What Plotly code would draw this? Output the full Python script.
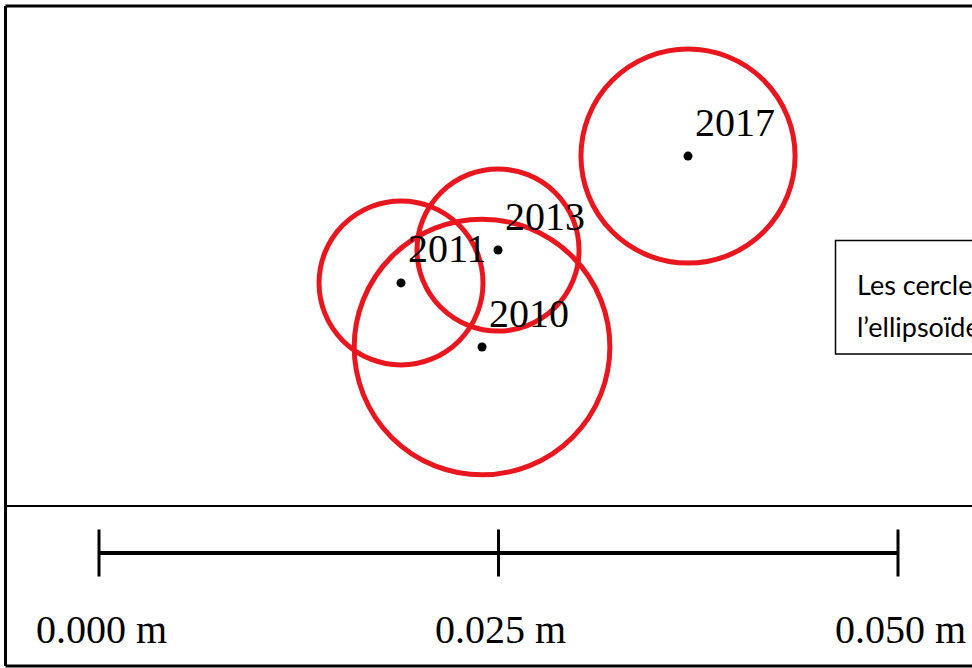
import plotly.graph_objects as go

# ---- data (metres) ----
years = ["2010", "2011", "2013", "2017"]
x_m = [0.02397, 0.01890, 0.02497, 0.03686]
y_m = [0.01289, 0.01690, 0.01896, 0.02484]
radius_m = [0.00800, 0.00513, 0.00507, 0.00670]

scale_ticks = [0.000, 0.025, 0.050]
scale_labels = ["0.000 m", "0.025 m", "0.050 m"]

note_lines = ["Les cercles représentent", "l’ellipsoïde d’erreur"]

# ---- layout constants ----
W, H = 972, 668
PX_PER_M = 15980.0
X_RANGE = [-99 / PX_PER_M, (W - 99) / PX_PER_M]
Y_RANGE = [-(H - 553) / PX_PER_M, 553 / PX_PER_M]
SERIF = "Liberation Serif, Times New Roman, serif"
RED = "#e8161e"

fig = go.Figure()

# epicentre dots
fig.add_trace(go.Scatter(x=x_m, y=y_m, mode="markers",
                         marker=dict(color="black", size=9),
                         hoverinfo="skip", showlegend=False))

# scale bar
fig.add_trace(go.Scatter(x=[scale_ticks[0], scale_ticks[-1]], y=[0, 0], mode="lines",
                         line=dict(color="black", width=4), hoverinfo="skip", showlegend=False))
tick_h = 23.5 / PX_PER_M
tx, ty = [], []
for t in scale_ticks:
    tx += [t, t, None]
    ty += [tick_h, -tick_h, None]
fig.add_trace(go.Scatter(x=tx, y=ty, mode="lines",
                         line=dict(color="black", width=3), hoverinfo="skip", showlegend=False))

shapes = []
# error circles
for cx, cy, r in zip(x_m, y_m, radius_m):
    shapes.append(dict(type="circle", xref="x", yref="y",
                       x0=cx - r, x1=cx + r, y0=cy - r, y1=cy + r,
                       line=dict(color=RED, width=5), layer="above"))


def px(xp):
    return xp / W


def py(yp):
    return 1 - yp / H


# outer frame (right side off-image) and divider
frame = dict(color="black", width=3)
shapes += [
    dict(type="line", xref="paper", yref="paper", x0=px(5.5), x1=1.05, y0=py(6), y1=py(6), line=frame),
    dict(type="line", xref="paper", yref="paper", x0=px(5.5), x1=px(5.5), y0=py(6), y1=py(666), line=frame),
    dict(type="line", xref="paper", yref="paper", x0=px(5.5), x1=1.05, y0=py(666), y1=py(666), line=frame),
    dict(type="line", xref="paper", yref="paper", x0=px(5.5), x1=1.05, y0=py(506), y1=py(506),
         line=dict(color="black", width=2)),
    # note box
    dict(type="rect", xref="paper", yref="paper", x0=px(835.5), x1=1.1, y0=py(354), y1=py(240.5),
         line=dict(color="black", width=1.5), fillcolor="white"),
]

annotations = []
for yr, cx, cy in zip(years, x_m, y_m):
    annotations.append(dict(x=cx, y=cy, xref="x", yref="y", text=yr, showarrow=False,
                            xanchor="left", yanchor="middle", xshift=5, yshift=34,
                            font=dict(family=SERIF, size=40, color="black")))
for t, lab in zip(scale_ticks, scale_labels):
    annotations.append(dict(x=t, y=0, xref="x", yref="y", text=lab, showarrow=False,
                            xanchor="center", yanchor="middle", xshift=2, yshift=-76,
                            font=dict(family=SERIF, size=40, color="black")))
for i, line in enumerate(note_lines):
    annotations.append(dict(x=px(855), y=py(284 + 42 * i), xref="paper", yref="paper",
                            text=line, showarrow=False, xanchor="left", yanchor="middle",
                            font=dict(family="Lato, Calibri, sans-serif", size=27, color="black")))

fig.update_layout(
    width=W, height=H, margin=dict(l=0, r=0, t=0, b=0),
    paper_bgcolor="white", plot_bgcolor="white",
    xaxis=dict(range=X_RANGE, visible=False, fixedrange=True),
    yaxis=dict(range=Y_RANGE, visible=False, fixedrange=True),
    shapes=shapes, annotations=annotations, showlegend=False,
)

fig.write_html("out.html")
